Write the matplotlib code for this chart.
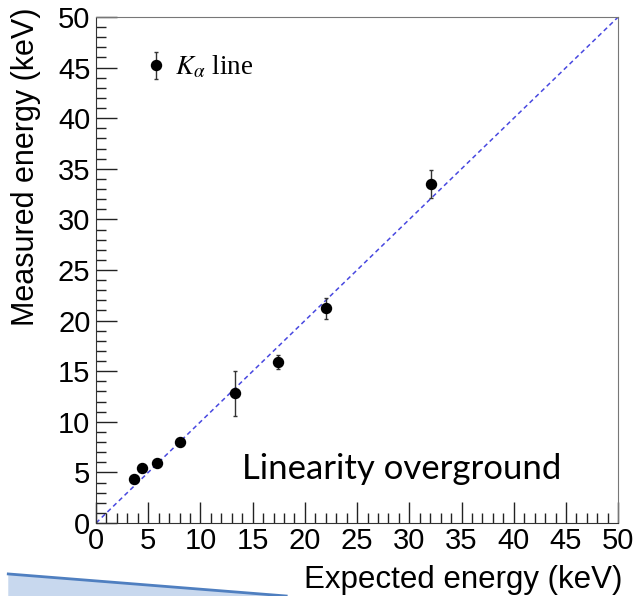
import numpy as np
import matplotlib.pyplot as plt
from matplotlib.patches import Polygon
from matplotlib.ticker import MultipleLocator

# K-alpha lines: expected vs. measured energy (keV)
expected = [3.6, 4.4, 5.8, 8.0, 13.3, 17.4, 22.0, 32.1]
measured = [4.35, 5.45, 5.9, 8.0, 12.8, 15.9, 21.2, 33.5]
meas_err = [0.3, 0.3, 0.3, 0.3, 2.2, 0.7, 1.0, 1.35]
diag = [0, 50]

plt.rcParams['font.family'] = ['Liberation Sans', 'DejaVu Sans']
plt.rcParams['mathtext.fontset'] = 'stix'

fig = plt.figure(figsize=(6.36, 5.96), dpi=100)
ax = fig.add_axes([0.151, 0.1225, 0.821, 0.849])

ax.plot(diag, diag, color='#4848e0', linestyle=(0, (3, 2.2)), linewidth=1.1, zorder=1)
ax.errorbar(expected, measured, yerr=meas_err, fmt='o', color='black', ecolor='#333333',
            markersize=7.2, elinewidth=1.0, capsize=1.5, label=r'$K_\alpha$ line', zorder=3)

ax.set_xlim(0, 50)
ax.set_ylim(0, 50)
ax.xaxis.set_major_locator(MultipleLocator(5))
ax.xaxis.set_minor_locator(MultipleLocator(1))
ax.yaxis.set_major_locator(MultipleLocator(5))
ax.yaxis.set_minor_locator(MultipleLocator(1))
ax.tick_params(which='both', direction='in', labelsize=21, width=1, color='#222222')
ax.tick_params(axis='x', which='major', length=15, pad=3)
ax.tick_params(axis='y', which='major', length=15, pad=4)
ax.tick_params(which='minor', length=7.5)
for side in ['top', 'right']:
    ax.spines[side].set_color('#777777')
for side in ['left', 'bottom']:
    ax.spines[side].set_color('#333333')

ax.set_xlabel('Expected energy (keV)', fontsize=22.5, loc='right')
ax.set_ylabel('Measured energy (keV)', fontsize=22, loc='top')
ax.xaxis.set_label_coords(1.008, -0.083)
ax.yaxis.set_label_coords(-0.106, 1.018)

leg = ax.legend(loc='center left', bbox_to_anchor=(0.047, 0.9), frameon=False,
                handlelength=0.8, handletextpad=0.3,
                prop={'family': 'Liberation Serif', 'size': 19.5})

ax.text(0.28, 0.107, 'Linearity overground', transform=ax.transAxes,
        fontsize=25, family='Lato', va='center', ha='left')

# light blue slide wedge in the lower-left corner
wedge = Polygon([[0.013, 0.037], [0.45, 0.0], [0.013, 0.0]], closed=True,
                transform=fig.transFigure, facecolor='#c8d8ee', edgecolor='none')
fig.add_artist(wedge)
fig.add_artist(plt.Line2D([0.013, 0.45], [0.037, 0.0], transform=fig.transFigure,
                          color='#4f7fc0', linewidth=2.0))

fig.savefig('out.png', dpi=100)
